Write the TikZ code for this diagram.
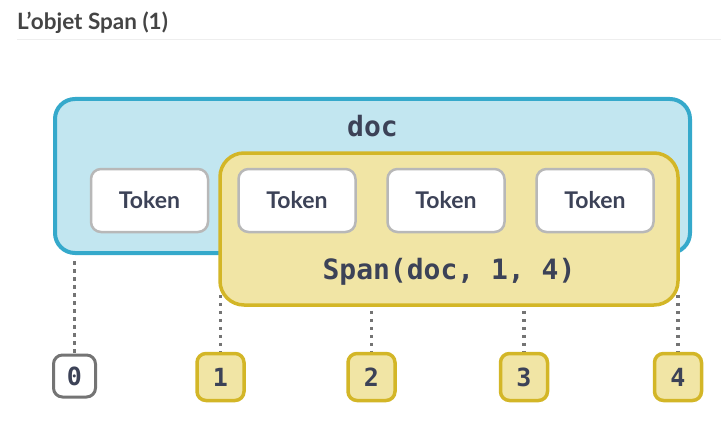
\documentclass[tikz,border=0pt]{standalone}
\usepackage{fontspec}
\setmainfont{Lato}
\newfontfamily\codefont{DejaVu Sans Mono}
\usetikzlibrary{backgrounds}
\definecolor{blueline}{HTML}{35A9CB}
\definecolor{bluefill}{HTML}{C2E6F0}
\definecolor{yelline}{HTML}{D3B627}
\definecolor{yelfill}{HTML}{F1E5A5}
\definecolor{tokline}{HTML}{B8B8B8}
\definecolor{txt}{HTML}{3C4257}
\definecolor{dotgray}{HTML}{747474}
\definecolor{titlecol}{HTML}{444444}
\definecolor{sepcol}{HTML}{EEEEEE}
\tikzset{
  docbox/.style={draw=blueline, fill=bluefill, line width=4pt, rounded corners=20pt,
    minimum width=635pt, minimum height=154pt, inner sep=0pt},
  spanbox/.style={draw=yelline, fill=yelfill, line width=3.5pt, rounded corners=24pt,
    minimum width=458pt, minimum height=152pt, inner sep=0pt},
  tokbox/.style={draw=tokline, fill=white, line width=2.5pt, rounded corners=10pt,
    minimum width=117pt, minimum height=63pt, inner sep=0pt, text=txt,
    font=\fontsize{23}{25}\selectfont\bfseries},
  idx/.style={draw=yelline, fill=yelfill, line width=3.5pt, rounded corners=9pt,
    minimum width=47pt, minimum height=47pt, inner sep=0pt, text=txt,
    font=\codefont\bfseries\fontsize{25}{27}\selectfont},
  idxzero/.style={idx, draw=dotgray, fill=white, line width=3pt, minimum width=42pt, minimum height=42pt},
  code/.style={text=txt, font=\codefont\bfseries\fontsize{28}{30}\selectfont, inner sep=0pt},
  dotline/.style={draw=dotgray, line width=3.5pt, dash pattern=on 3.5pt off 4.5pt}
}
\begin{document}
\begin{tikzpicture}[x=1pt, y=-1pt]
\useasboundingbox (0,0) rectangle (721,436);
% title
\node[anchor=base west, inner sep=0pt, text=titlecol, font=\fontsize{22.5}{25}\selectfont\bfseries] (title) at (17,30) {L'objet Span (1)};
\draw[sepcol, line width=1pt] (17,39.5) -- (721,39.5);
% boxes
\node[docbox] (doc) at (372.5,176) {};
\node[code] (doclabel) at (372.5,126) {doc};
\node[spanbox] (span) at (449,229) {};
\node[code] (spanlabel) at (449,272) {Span(doc, 1, 4)};
\node[tokbox] (t0) at (149.5,200.5) {Token};
\node[tokbox] (t1) at (297,200.5) {Token};
\node[tokbox] (t2) at (446,200.5) {Token};
\node[tokbox] (t3) at (595,200.5) {Token};
% indices
\node[idxzero] (l0) at (74.5,376) {0};
\node[idx] (l1) at (220.5,377) {1};
\node[idx] (l2) at (371.5,377) {2};
\node[idx] (l3) at (524,377) {3};
\node[idx] (l4) at (678,377) {4};
\begin{pgfonlayer}{background}
\draw[dotline] (l0.north |- doc.south) ++(0,6) -- (l0.north);
\draw[dotline] (l1.north |- span.south) ++(0,-12) -- (l1.north);
\draw[dotline] (l2.north |- span.south) ++(0,-12) -- (l2.north);
\draw[dotline] (l3.north |- span.south) ++(0,-12) -- (l3.north);
\draw[dotline] (l4.north |- span.south) ++(0,-12) -- (l4.north);
\end{pgfonlayer}
\end{tikzpicture}
\end{document}
